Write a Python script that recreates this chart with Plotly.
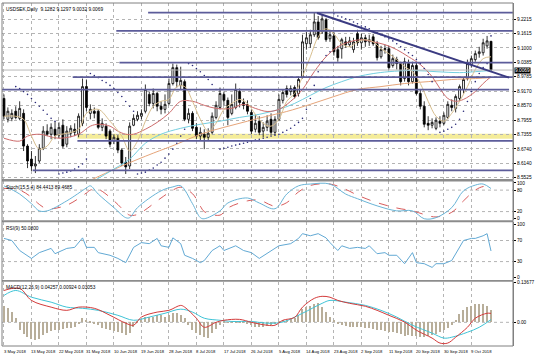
import plotly.graph_objects as go

# ---------------- data ----------------
tick_labels = ["3 May 2018", "13 May 2018", "22 May 2018", "31 May 2018", "10 Jun 2018",
               "19 Jun 2018", "28 Jun 2018", "8 Jul 2018", "17 Jul 2018", "26 Jul 2018",
               "5 Aug 2018", "14 Aug 2018", "23 Aug 2018", "2 Sep 2018", "11 Sep 2018",
               "20 Sep 2018", "30 Sep 2018", "9 Oct 2018"]
tick_bars = [0, 7, 14, 21, 28, 35, 42, 49, 56, 63, 70, 77, 84, 91, 98, 105, 112, 119]

opens = [8.887, 8.799, 8.803, 8.833, 8.803, 8.824, 8.686, 8.631, 8.602, 8.623,
         8.677, 8.749, 8.736, 8.757, 8.732, 8.774, 8.694, 8.740, 8.757, 8.736,
         8.782, 8.937, 8.824, 8.833, 8.833, 8.765, 8.770, 8.749, 8.707, 8.719,
         8.669, 8.618, 8.602, 8.774, 8.799, 8.812, 8.833, 8.904, 8.866, 8.908,
         8.854, 8.841, 8.866, 8.950, 9.017, 8.942, 8.958, 8.799, 8.824, 8.765,
         8.728, 8.736, 8.723, 8.744, 8.807, 8.849, 8.904, 8.879, 8.824, 8.849,
         8.916, 8.870, 8.862, 8.828, 8.757, 8.791, 8.749, 8.765, 8.799, 8.744,
         8.799, 8.879, 8.929, 8.916, 8.933, 8.908, 8.979, 9.118, 9.118, 9.156,
         9.210, 9.168, 9.219, 9.139, 9.151, 9.093, 9.097, 9.126, 9.114, 9.093,
         9.160, 9.122, 9.143, 9.126, 9.147, 9.118, 9.063, 9.093, 9.097, 9.026,
         9.051, 9.034, 8.971, 9.034, 8.958, 9.026, 8.908, 8.854, 8.782, 8.774,
         8.761, 8.791, 8.782, 8.807, 8.858, 8.845, 8.887, 8.925, 8.971, 9.030,
         9.051, 9.076, 9.080, 9.109, 9.1282]
highs = [8.904, 8.849, 8.841, 8.854, 8.875, 8.841, 8.694, 8.665, 8.644, 8.694,
         8.770, 8.778, 8.782, 8.791, 8.786, 8.799, 8.770, 8.774, 8.782, 8.824,
         8.971, 8.967, 8.862, 8.849, 8.841, 8.803, 8.782, 8.757, 8.736, 8.732,
         8.677, 8.640, 8.786, 8.820, 8.833, 8.841, 8.946, 8.916, 8.929, 8.916,
         8.875, 8.904, 8.971, 9.034, 9.030, 9.021, 8.967, 8.845, 8.833, 8.782,
         8.765, 8.757, 8.761, 8.828, 8.875, 8.933, 8.916, 8.891, 8.904, 8.950,
         8.929, 8.887, 8.879, 8.841, 8.820, 8.812, 8.786, 8.816, 8.824, 8.812,
         8.904, 8.925, 8.942, 8.942, 8.942, 8.979, 9.156, 9.168, 9.177, 9.248,
         9.235, 9.240, 9.227, 9.177, 9.168, 9.109, 9.143, 9.147, 9.147, 9.143,
         9.177, 9.160, 9.156, 9.156, 9.160, 9.130, 9.109, 9.114, 9.109, 9.072,
         9.063, 9.042, 9.059, 9.051, 9.042, 9.042, 8.925, 8.875, 8.812, 8.803,
         8.807, 8.812, 8.828, 8.875, 8.883, 8.904, 8.946, 8.975, 9.051, 9.068,
         9.089, 9.105, 9.139, 9.151, 9.1297]
lows = [8.799, 8.786, 8.791, 8.799, 8.795, 8.665, 8.593, 8.581, 8.572, 8.614,
        8.669, 8.728, 8.715, 8.715, 8.719, 8.677, 8.681, 8.723, 8.728, 8.723,
        8.770, 8.833, 8.799, 8.803, 8.757, 8.749, 8.715, 8.681, 8.694, 8.656,
        8.602, 8.568, 8.589, 8.770, 8.791, 8.799, 8.824, 8.854, 8.845, 8.833,
        8.820, 8.824, 8.858, 8.942, 8.933, 8.925, 8.791, 8.782, 8.749, 8.715,
        8.711, 8.673, 8.707, 8.736, 8.799, 8.841, 8.858, 8.774, 8.816, 8.841,
        8.849, 8.841, 8.820, 8.736, 8.744, 8.732, 8.723, 8.749, 8.732, 8.732,
        8.791, 8.866, 8.891, 8.900, 8.887, 8.895, 8.971, 9.093, 9.101, 9.147,
        9.135, 9.160, 9.126, 9.126, 9.068, 9.042, 9.055, 9.101, 9.105, 9.080,
        9.109, 9.093, 9.105, 9.109, 9.109, 9.047, 9.055, 9.076, 9.009, 9.017,
        9.009, 8.942, 8.958, 8.942, 8.950, 8.900, 8.841, 8.765, 8.753, 8.761,
        8.753, 8.765, 8.774, 8.799, 8.833, 8.828, 8.875, 8.908, 8.963, 9.017,
        9.042, 9.059, 9.068, 9.097, 9.0032]
closes = [8.812, 8.833, 8.824, 8.807, 8.845, 8.686, 8.623, 8.602, 8.610, 8.677,
          8.749, 8.736, 8.765, 8.732, 8.765, 8.686, 8.749, 8.761, 8.744, 8.812,
          8.937, 8.849, 8.841, 8.824, 8.765, 8.782, 8.728, 8.694, 8.723, 8.669,
          8.614, 8.598, 8.770, 8.803, 8.816, 8.824, 8.925, 8.866, 8.908, 8.854,
          8.841, 8.862, 8.950, 9.017, 8.958, 8.963, 8.799, 8.824, 8.761, 8.728,
          8.744, 8.723, 8.740, 8.812, 8.858, 8.908, 8.879, 8.807, 8.862, 8.925,
          8.870, 8.858, 8.833, 8.749, 8.782, 8.744, 8.765, 8.791, 8.744, 8.799,
          8.883, 8.912, 8.904, 8.929, 8.895, 8.967, 9.126, 9.143, 9.156, 9.210,
          9.143, 9.223, 9.135, 9.156, 9.084, 9.059, 9.135, 9.114, 9.130, 9.126,
          9.122, 9.143, 9.126, 9.135, 9.118, 9.059, 9.093, 9.097, 9.017, 9.055,
          9.034, 8.958, 9.042, 8.958, 9.026, 8.908, 8.854, 8.778, 8.774, 8.786,
          8.795, 8.782, 8.816, 8.862, 8.849, 8.895, 8.937, 8.967, 9.034, 9.055,
          9.076, 9.084, 9.122, 9.130, 9.0069]
bars = list(range(len(closes)))

# moving averages (bar index, price)
fast_x = [0, 3, 5, 7, 9, 11, 13, 16, 19, 21, 24, 27, 30, 32, 34, 36, 38, 40, 42, 44,
          46, 48, 50, 52, 54, 56, 58, 60, 62, 64, 66, 68, 70, 72, 74, 76, 78, 80, 82, 84,
          86, 88, 90, 92, 94, 96, 98, 100, 102, 104, 106, 108, 110, 112, 114, 116, 118, 120, 122, 124]
fast_v = [8.812, 8.812, 8.799, 8.728, 8.673, 8.686, 8.728, 8.740, 8.757, 8.824,
          8.841, 8.791, 8.728, 8.665, 8.707, 8.791, 8.854, 8.875, 8.883, 8.937,
          8.937, 8.875, 8.799, 8.749, 8.782, 8.841, 8.866, 8.883, 8.866, 8.820,
          8.782, 8.770, 8.799, 8.875, 8.908, 8.979, 9.063, 9.147, 9.181, 9.160,
          9.118, 9.105, 9.126, 9.135, 9.126, 9.097, 9.076, 9.051, 9.021, 9.000,
          8.950, 8.875, 8.812, 8.791, 8.824, 8.875, 8.937, 9.009, 9.055, 9.063]
mid_x = [0, 4, 6, 9, 14, 19, 22, 24, 27, 29, 31, 33, 36, 39, 42, 45, 48, 51, 54, 58,
         61, 64, 67, 70, 73, 76, 79, 82, 85, 88, 91, 94, 97, 100, 103, 106, 109, 111, 113, 115,
         117, 120, 122, 124]
mid_v = [8.719, 8.707, 8.728, 8.736, 8.719, 8.736, 8.770, 8.778, 8.770, 8.749,
         8.736, 8.736, 8.757, 8.786, 8.824, 8.875, 8.875, 8.858, 8.845, 8.845,
         8.862, 8.845, 8.832, 8.841, 8.875, 8.925, 9.000, 9.063, 9.105, 9.126,
         9.135, 9.126, 9.114, 9.093, 9.063, 9.030, 8.979, 8.929, 8.887, 8.875,
         8.883, 8.916, 8.950, 8.979]
cyan_x = [22, 28, 32, 36, 40, 45, 50, 55, 60, 65, 70, 74, 78, 82, 86, 90, 94, 98, 104, 110, 116, 120, 124]
cyan_v = [8.530, 8.589, 8.631, 8.698, 8.736, 8.761, 8.778, 8.791, 8.807, 8.820, 8.841, 8.866,
          8.900, 8.933, 8.958, 8.979, 8.992, 9.000, 9.005, 9.000, 8.996, 9.000, 9.005]
slow_x = [20, 30, 38, 44, 50, 56, 62, 68, 72, 78, 84, 90, 96, 102, 108, 114, 120, 124]
slow_v = [8.526, 8.602, 8.656, 8.694, 8.736, 8.765, 8.791, 8.816, 8.832, 8.862, 8.895, 8.925,
          8.937, 8.950, 8.958, 8.967, 8.971, 8.975]

# parabolic SAR dots (bars 3..124)
psar_x = list(range(3, 125))
psar_v = [8.937, 8.929, 8.916, 8.904, 8.887, 8.870, 8.854, 8.837, 8.820, 8.803, 8.791,
          8.568, 8.572, 8.576, 8.581, 8.589, 8.598, 8.610, 8.631,
          8.992, 8.984, 8.975, 8.963, 8.954, 8.942, 8.929, 8.912, 8.895, 8.874, 8.854, 8.833,
          8.568, 8.572, 8.576, 8.585, 8.593, 8.606, 8.618, 8.635, 8.652, 8.673, 8.698, 8.728, 8.757,
          9.034, 9.026, 9.013, 9.000, 8.984, 8.967, 8.946, 8.925,
          8.673, 8.677, 8.681, 8.686, 8.690, 8.694, 8.698, 8.702, 8.707, 8.711, 8.715, 8.719,
          8.723, 8.728, 8.732, 8.736, 8.744, 8.753, 8.761, 8.774, 8.786, 8.803, 8.841, 8.887,
          8.942, 9.000, 9.042, 9.068, 9.084,
          9.244, 9.235, 9.231, 9.223, 9.219, 9.210, 9.202, 9.193, 9.189, 9.181, 9.172, 9.164,
          9.156, 9.147, 9.139, 9.130, 9.118, 9.105, 9.093, 9.080, 9.068, 9.051, 9.034, 9.013,
          8.988, 8.958, 8.925,
          8.744, 8.749, 8.757, 8.765, 8.778, 8.799, 8.833, 8.874, 8.916, 8.958, 8.992, 9.017, 9.034,
          9.151]

# drawn objects
hline_levels = [9.249, 9.172, 9.0385, 8.977, 8.924, 8.708, 8.583]
hline_start = [36.7, 28.6, 29.4, 17.5, -0.5, 18.7, 7.3]
hline_end = [129.6, 129.6, 129.6, 129.6, 128.6, 129.6, 129.6]
band_low, band_high, band_start = 8.717, 8.738, 18.7
trend_x = [79.7, 128.6]
trend_y = [9.248, 8.975]
last_price = 9.0069
price_ticks = [9.2215, 9.1615, 9.1000, 9.0385, 8.9785, 8.9170, 8.8570, 8.7955,
               8.7355, 8.6740, 8.6140, 8.5525]

# stochastic
stoch_x = [0, 4, 7, 9, 11, 16, 21, 22, 24, 28, 31, 32, 34, 40, 43, 45, 48, 50, 51, 55,
           57, 62, 65, 69, 72, 75, 78, 83, 87, 90, 95, 100, 104, 107, 110, 114, 117, 120, 122, 124]
stoch_main = [92, 69, 42, 22, 22, 50, 86, 92, 69, 31, 3, 3, 31, 78, 89, 92, 42, 3, 0, 22,
              44, 58, 44, 28, 69, 92, 97, 97, 69, 56, 36, 22, 22, 0, 3, 31, 78, 94, 97, 84.44]
stoch_sig = [85, 80, 60, 40, 28, 38, 72, 80, 82, 50, 18, 10, 12, 58, 80, 88, 70, 35, 20, 10,
             30, 50, 52, 35, 45, 75, 93, 97, 82, 66, 45, 30, 22, 12, 5, 18, 50, 80, 90, 89.47]
stoch_levels = [20, 80]

# RSI
rsi_x = [0, 2, 4, 7, 9, 12, 13, 16, 18, 20, 21, 23, 24, 27, 29, 31, 33, 35, 37, 39,
         40, 42, 43, 45, 46, 48, 50, 51, 53, 55, 56, 59, 61, 63, 65, 67, 70, 73, 75, 76,
         78, 80, 82, 83, 85, 86, 88, 90, 92, 93, 95, 97, 98, 100, 102, 104, 105, 107, 109, 110,
         112, 114, 115, 117, 119, 120, 122, 123, 124]
rsi_v = [74, 70, 51, 36, 47, 55, 45, 55, 57, 75, 57, 57, 47, 42, 36, 28, 57, 66, 64, 74,
         60, 57, 75, 64, 42, 36, 28, 32, 51, 60, 51, 60, 51, 47, 36, 45, 60, 64, 74, 83,
         79, 83, 75, 66, 51, 60, 55, 57, 55, 60, 45, 47, 42, 42, 26, 47, 28, 26, 19, 26,
         26, 32, 45, 70, 74, 74, 79, 83, 50.08]
rsi_levels = [30, 70]

# MACD
macd_x = [0, 4, 7, 12, 16, 19, 23, 27, 31, 33, 35, 39, 42, 45, 46, 49, 51, 54, 56, 60,
          63, 67, 69, 71, 74, 76, 79, 81, 83, 85, 88, 92, 95, 98, 102, 105, 109, 111, 113, 115,
          118, 120, 123, 124]
macd_main = [0.109, 0.116, 0.075, 0.052, 0.041, 0.052, 0.048, 0.024, -0.003, -0.010,
             0.018, 0.035, 0.041, 0.058, 0.052, 0.014, -0.017, 0.0, 0.007, 0.010,
             0.0, -0.010, -0.010, 0.007, 0.017, 0.052, 0.082, 0.089, 0.086, 0.075,
             0.065, 0.055, 0.041, 0.024, 0.001, -0.027, -0.054, -0.071, -0.071, -0.051,
             -0.017, 0.014, 0.031, 0.03053]
sig_x = [0, 3, 7, 12, 16, 20, 24, 29, 33, 37, 41, 45, 48, 51, 55, 58, 63, 67, 71, 76,
         81, 83, 87, 92, 96, 100, 104, 109, 112, 114, 118, 121, 124]
macd_sig = [0.092, 0.109, 0.086, 0.069, 0.052, 0.048, 0.041, 0.024, 0.007, 0.018,
            0.031, 0.045, 0.035, 0.014, 0.007, 0.003, 0.003, -0.003, 0.001, 0.031,
            0.065, 0.075, 0.069, 0.058, 0.041, 0.018, -0.010, -0.037, -0.054, -0.051,
            -0.034, -0.017, 0.00924]
macd_hist = [0.058, 0.048, 0.035, 0.016, -0.027, -0.040, -0.050, -0.058, -0.061, -0.057,
             -0.044, -0.036, -0.030, -0.027, -0.027, -0.023, -0.020, -0.018, -0.015, -0.005,
             0.014, 0.008, 0.004, -0.002, -0.008, -0.020, -0.024, -0.027, -0.030, -0.032,
             -0.035, -0.044, -0.035, -0.015, 0.004, 0.010, 0.018, 0.020, 0.020, 0.024,
             0.024, 0.020, 0.027, 0.031, 0.031, 0.026, 0.014, -0.008, -0.027, -0.036,
             -0.044, -0.051, -0.054, -0.037, -0.022, -0.008, 0.002, 0.001, 0.003, 0.004,
             0.003, 0.002, -0.004, -0.010, -0.015, -0.017, -0.017, -0.012, -0.010, -0.006,
             0.003, 0.008, 0.010, 0.012, 0.014, 0.025, 0.045, 0.052, 0.058, 0.062,
             0.065, 0.052, 0.035, 0.020, 0.007, -0.006, -0.010, -0.012, -0.014, -0.016,
             -0.017, -0.017, -0.018, -0.020, -0.022, -0.026, -0.027, -0.030, -0.032, -0.034,
             -0.037, -0.040, -0.045, -0.044, -0.047, -0.047, -0.049, -0.051, -0.048, -0.044,
             -0.038, -0.034, -0.027, -0.020, -0.010, 0.010, 0.030, 0.041, 0.052, 0.058,
             0.062, 0.062, 0.062, 0.058, 0.04257]
macd_ticks = [0.13677, 0.0, -0.08114]
macd_ticktext = ["0.13677", "0.00", "-0.08114"]

title_main = "USDSEK,Daily  9.1282 9.1297 9.0032 9.0069"
title_stoch = "Stoch(15,5,4) 84.4413 89.4685"
title_rsi = "RSI(9) 50.0800"
title_macd = "MACD(12,26,9) 0.04257 0.00924 0.03053"

# ---------------- layout helpers ----------------
W, H = 536, 358
M_L, M_R, M_T, M_B = 2, 20, 1, 12
PH = H - M_T - M_B


def py(pix):
    return (H - M_B - pix) / PH


FONT = "Liberation Sans"
FS = 4.8
FS_DATE = 4.2
GRID = "#b4b4b4"
XR = [-0.5, 129.6]

fig = go.Figure()

# main panel
fig.add_trace(go.Scatter(x=slow_x, y=slow_v, mode="lines", line=dict(color="#e6a57a", width=1, shape="spline"),
                         xaxis="x", yaxis="y", hoverinfo="skip"))
fig.add_trace(go.Scatter(x=cyan_x, y=cyan_v, mode="lines", line=dict(color="#74cfe0", width=1, shape="spline"),
                         xaxis="x", yaxis="y", hoverinfo="skip"))
fig.add_trace(go.Scatter(x=mid_x, y=mid_v, mode="lines", line=dict(color="#cd6b6b", width=1, shape="spline"),
                         xaxis="x", yaxis="y", hoverinfo="skip"))
fig.add_trace(go.Scatter(x=fast_x, y=fast_v, mode="lines", line=dict(color="#d8bf8f", width=1, shape="spline"),
                         xaxis="x", yaxis="y", hoverinfo="skip"))
fig.add_trace(go.Scatter(x=psar_x, y=psar_v, mode="markers", marker=dict(color="#2a2a78", size=1.6),
                         xaxis="x", yaxis="y", hoverinfo="skip"))
fig.add_trace(go.Candlestick(x=bars, open=opens, high=highs, low=lows, close=closes,
                             increasing=dict(line=dict(color="black", width=0.8), fillcolor="white"),
                             decreasing=dict(line=dict(color="black", width=0.8), fillcolor="black"),
                             whiskerwidth=0, xaxis="x", yaxis="y", hoverinfo="skip"))

# stochastic
fig.add_trace(go.Scatter(x=stoch_x, y=stoch_sig, mode="lines",
                         line=dict(color="#d24a4a", width=0.9, dash="dash", shape="spline"),
                         xaxis="x2", yaxis="y2"))
fig.add_trace(go.Scatter(x=stoch_x, y=stoch_main, mode="lines",
                         line=dict(color="#6ab4d6", width=1, shape="spline"),
                         xaxis="x2", yaxis="y2"))
# RSI
fig.add_trace(go.Scatter(x=rsi_x, y=rsi_v, mode="lines", line=dict(color="#62a9d4", width=1),
                         xaxis="x3", yaxis="y3"))
# MACD
fig.add_trace(go.Bar(x=bars, y=macd_hist, width=0.3, marker=dict(color="#b8ae9a", line=dict(width=0)),
                     xaxis="x4", yaxis="y4"))
fig.add_trace(go.Scatter(x=sig_x, y=macd_sig, mode="lines", line=dict(color="#3fc3d6", width=1, shape="spline"),
                         xaxis="x4", yaxis="y4"))
fig.add_trace(go.Scatter(x=macd_x, y=macd_main, mode="lines", line=dict(color="#d33a3a", width=1, shape="spline"),
                         xaxis="x4", yaxis="y4"))

shapes = []
# yellow band and horizontal levels
shapes.append(dict(type="rect", xref="x", yref="y", x0=band_start, x1=XR[1], y0=band_low, y1=band_high,
                   fillcolor="#f4ec9a", line=dict(width=0), layer="below"))
for lv, xs, xe in zip(hline_levels, hline_start, hline_end):
    shapes.append(dict(type="line", xref="x", yref="y", x0=xs, x1=xe, y0=lv, y1=lv,
                       line=dict(color="#5c5c9a", width=1.8)))
shapes.append(dict(type="line", xref="x", yref="y", x0=XR[0], x1=XR[1], y0=last_price, y1=last_price,
                   line=dict(color="#b8b8b8", width=1)))
shapes.append(dict(type="line", xref="x", yref="y", x0=trend_x[0], x1=trend_x[1], y0=trend_y[0], y1=trend_y[1],
                   line=dict(color="#3b3b82", width=2)))
for lv in stoch_levels:
    shapes.append(dict(type="line", xref="x2", yref="y2", x0=XR[0], x1=XR[1], y0=lv, y1=lv,
                       line=dict(color=GRID, width=1, dash="dot"), layer="below"))
for lv in rsi_levels:
    shapes.append(dict(type="line", xref="x3", yref="y3", x0=XR[0], x1=XR[1], y0=lv, y1=lv,
                       line=dict(color=GRID, width=1, dash="dot"), layer="below"))
shapes.append(dict(type="line", xref="x4", yref="y4", x0=XR[0], x1=XR[1], y0=0, y1=0,
                   line=dict(color=GRID, width=1, dash="dot"), layer="below"))
# panel separators
for a, b in [(178, 180.5), (219.5, 221.5), (279.5, 281.5)]:
    shapes.append(dict(type="rect", xref="paper", yref="paper", x0=0, x1=1, y0=py(b), y1=py(a),
                       fillcolor="#8c8c8c", line=dict(width=0)))
# outer frame
shapes.append(dict(type="rect", xref="paper", yref="paper", x0=0, x1=1, y0=0, y1=1,
                   line=dict(color="#808080", width=1)))

annotations = []
for lab, b in zip(tick_labels, tick_bars):
    annotations.append(dict(x=b, y=0, xref="x4", yref="paper", text=lab, showarrow=False,
                            xanchor="left", yanchor="top", xshift=-2, yshift=-1,
                            font=dict(family=FONT, size=FS_DATE, color="black")))
for txt, pix in [(title_main, 3), (title_stoch, 182), (title_rsi, 223), (title_macd, 283)]:
    annotations.append(dict(x=0, y=py(pix), xref="paper", yref="paper", text=txt, showarrow=False,
                            xanchor="left", yanchor="top", xshift=2,
                            font=dict(family=FONT, size=FS, color="black")))
annotations.append(dict(x=1, y=last_price, xref="paper", yref="y", text=f"{last_price:.4f}", showarrow=False,
                        xanchor="left", yanchor="middle", xshift=1, bgcolor="black", borderpad=0,
                        font=dict(family=FONT, size=FS, color="white")))

xbase = dict(range=XR, tickvals=tick_bars, showticklabels=False, showgrid=True, gridcolor=GRID,
             griddash="dot", gridwidth=1, zeroline=False, showline=False, ticks="", fixedrange=True)
ybase = dict(side="right", showgrid=False, zeroline=False, showline=True, linecolor="#808080", linewidth=1,
             ticks="outside", ticklen=2, tickcolor="black", tickfont=dict(family=FONT, size=FS, color="black"),
             fixedrange=True)

main_dom = [py(178), 1.0]
stoch_dom = [py(219.5), py(180.5)]
rsi_dom = [py(279.5), py(221.5)]
macd_dom = [0.0, py(281.5)]

fig.update_layout(
    width=W, height=H, margin=dict(l=M_L, r=M_R, t=M_T, b=M_B),
    paper_bgcolor="white", plot_bgcolor="white", showlegend=False, bargap=0,
    xaxis=dict(xbase, anchor="y", domain=[0, 1], rangeslider=dict(visible=False)),
    xaxis2=dict(xbase, anchor="y2", matches="x"),
    xaxis3=dict(xbase, anchor="y3", matches="x"),
    xaxis4=dict(xbase, anchor="y4", matches="x"),
    yaxis=dict(ybase, domain=main_dom, range=[8.5471, 9.2899], tickvals=price_ticks,
               ticktext=[f"{v:.4f}" for v in price_ticks], showgrid=True, gridcolor=GRID, griddash="dot"),
    yaxis2=dict(ybase, domain=stoch_dom, range=[-4.2, 104.2], tickvals=[0, 20, 80, 100]),
    yaxis3=dict(ybase, domain=rsi_dom, range=[-4.7, 104.7], tickvals=[0, 30, 70, 100]),
    yaxis4=dict(ybase, domain=macd_dom, range=[-0.0811, 0.1385], tickvals=macd_ticks, ticktext=macd_ticktext),
    shapes=shapes, annotations=annotations,
)

fig.write_html("out.html", config={"displayModeBar": False},
               post_script="document.body.style.margin='0px';document.body.style.overflow='hidden';")
